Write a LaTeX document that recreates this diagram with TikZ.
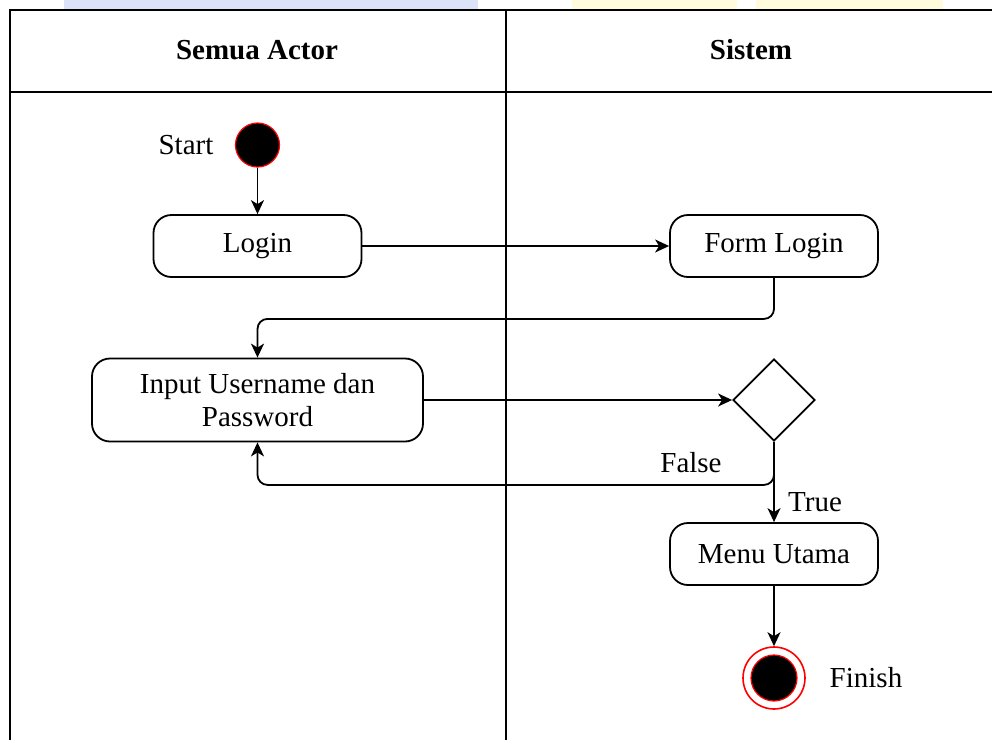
\documentclass[tikz,border=0pt]{standalone}
\usepackage{fontspec}
\setmainfont{Liberation Serif}
\usetikzlibrary{arrows.meta,shapes.geometric}
\definecolor{wmblue}{HTML}{DCE3F8}
\definecolor{wmyellow}{HTML}{FFFBDC}
\tikzset{
  tbl/.style={line width=1.3pt, black},
  act/.style={draw, line width=0.9pt, rounded corners=9pt, align=center,
    font=\fontsize{14.5}{16.5}\selectfont, inner sep=2pt},
  conn/.style={line width=0.9pt, -{Stealth[length=7pt,width=6.5pt,inset=2pt]}},
  lbl/.style={font=\fontsize{14.5}{16.5}\selectfont, inner sep=0pt},
  hdr/.style={font=\fontsize{14.5}{16.5}\selectfont\bfseries, inner sep=0pt},
}
\begin{document}
\begin{tikzpicture}[x=0.5pt,y=-0.5pt]
\useasboundingbox (0,0) rectangle (992,740);
% faint watermark strips at top
\fill[wmblue] (64,0) rectangle (478,9);
\fill[wmyellow] (572,0) rectangle (737,9);
\fill[wmyellow] (756,0) rectangle (943,9);
% swimlane table
\draw[tbl] (10,740) -- (10,10) -- (992,10);
\draw[tbl] (10,92) -- (992,92);
\draw[tbl] (506,10) -- (506,740);
\node[hdr] (h1) at (257,50) {Semua Actor};
\node[hdr] (h2) at (751,50) {Sistem};
% start
\node[circle, fill=black, draw=red, line width=0.6pt, minimum size=22pt, inner sep=0pt] (start) at (257.5,145) {};
\node[lbl] (startlbl) at (186,145) {Start};
% activities
\node[act, minimum width=104pt, minimum height=31pt] (login) at (257.5,246) {Login};
\node[act, minimum width=104pt, minimum height=31pt] (form) at (774,246) {Form Login};
\node[act, minimum width=165.5pt, minimum height=41.5pt] (input) at (257.5,400) {Input Username dan\\Password};
\node[diamond, draw, line width=0.9pt, minimum width=41pt, minimum height=41pt, inner sep=0pt] (dec) at (774,400) {};
\node[act, minimum width=104pt, minimum height=31pt] (menu) at (774,554) {Menu Utama};
% finish
\node[circle, draw=red, line width=0.8pt, minimum size=31pt, inner sep=0pt] (fin) at (774,678) {};
\node[circle, fill=black, draw=red, line width=0.6pt, minimum size=23pt, inner sep=0pt] (finin) at (fin) {};
\node[lbl] (finlbl) at (866,678) {Finish};
% connectors
\draw[conn] (start) -- (login);
\draw[conn] (login) -- (form);
\draw[conn, rounded corners=5pt] (form.south) -- ++(0,41) -| (input.north);
\draw[conn] (input) -- (dec);
\draw[conn, rounded corners=5pt] (dec.south) -- ++(0,43) -| (input.south);
\draw[conn] (dec.south) -- (menu.north);
\draw[conn] (menu.south) -- (fin.north);
\node[lbl] (falselbl) at (691,463) {False};
\node[lbl] (truelbl) at (815,502) {True};
\end{tikzpicture}
\end{document}
